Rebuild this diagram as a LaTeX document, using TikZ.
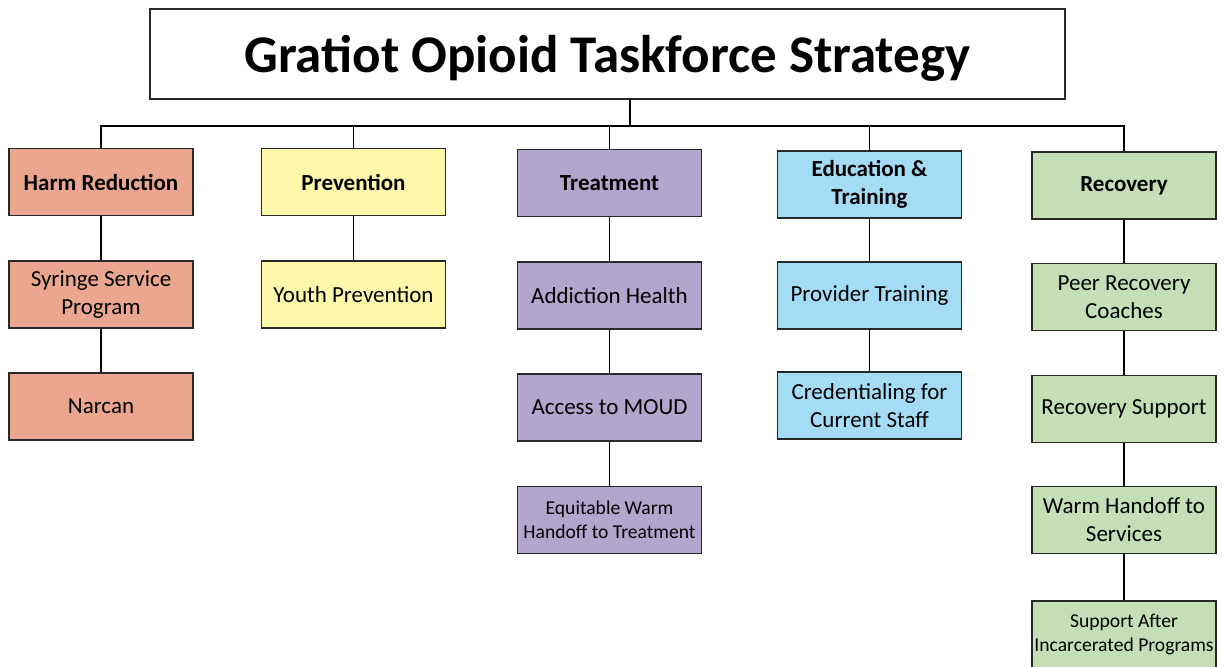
\documentclass[tikz,border=0pt]{standalone}
\usepackage{fontspec}
\setmainfont{Carlito}
\definecolor{harm}{RGB}{234,166,143}
\definecolor{prev}{RGB}{255,248,170}
\definecolor{treat}{RGB}{178,165,206}
\definecolor{edu}{RGB}{164,220,246}
\definecolor{rec}{RGB}{196,223,182}
\definecolor{edge}{RGB}{40,40,40}
\tikzset{
  box/.style={draw=edge, line width=1.3pt, rectangle, minimum width=184pt, minimum height=67pt, align=center, inner sep=2pt, font=\fontsize{23}{28}\selectfont},
  head/.style={box, font=\fontsize{23}{28}\selectfont\bfseries},
  small/.style={box, font=\fontsize{19.6}{24}\selectfont},
  link/.style={draw=black, line width=1.7pt},
}
\begin{document}
\begin{tikzpicture}[x=1pt,y=-1pt]
\useasboundingbox (0,0) rectangle (1225,666);
\begin{scope}
\clip (0,0) rectangle (1225,666);
\node[draw=edge, line width=1.4pt, minimum width=915pt, minimum height=90pt] (title) at (607.5,54) {};
\node[anchor=base, inner sep=0pt, font=\fontsize{53}{60}\selectfont\bfseries] (titletext) at (607.5,73) {Gratiot Opioid Taskforce Strategy};
\coordinate (bus) at (630,126);

\node[head, fill=harm] (h1) at (101,182) {Harm Reduction};
\node[box, fill=harm] (h2) at (101,294.5) {Syringe Service\\Program};
\node[box, fill=harm] (h3) at (101,406.5) {Narcan};

\node[head, fill=prev] (p1) at (353.5,182) {Prevention};
\node[box, fill=prev] (p2) at (353.5,294.5) {Youth Prevention};

\node[head, fill=treat] (t1) at (609.5,183) {Treatment};
\node[box, fill=treat] (t2) at (609.5,295.5) {Addiction Health};
\node[box, fill=treat] (t3) at (609.5,407.5) {Access to MOUD};
\node[small, fill=treat] (t4) at (609.5,520) {Equitable Warm\\Handoff to Treatment};

\node[head, fill=edu] (e1) at (869.5,184.5) {Education \&\\Training};
\node[box, fill=edu] (e2) at (869.5,295.5) {Provider Training};
\node[box, fill=edu] (e3) at (869.5,405.5) {Credentialing for\\Current Staff};

\node[head, fill=rec] (r1) at (1124,185.5) {Recovery};
\node[box, fill=rec] (r2) at (1124,297) {Peer Recovery\\Coaches};
\node[box, fill=rec] (r3) at (1124,409) {Recovery Support};
\node[box, fill=rec] (r4) at (1124,520) {Warm Handoff to\\Services};
\node[small, fill=rec] (r5) at (1124,634.5) {Support After\\Incarcerated Programs};

\draw[link] (title.south -| bus) -- (bus);
\draw[link] (h1.north) -- (h1.north |- bus) -- (r1.north |- bus) -- (r1.north);
\draw[link] (p1.north) -- (p1.north |- bus);
\draw[link] (t1.north) -- (t1.north |- bus);
\draw[link] (e1.north) -- (e1.north |- bus);

\draw[link] (h1) -- (h2);
\draw[link] (h2) -- (h3);
\draw[link] (p1) -- (p2);
\draw[link] (t1) -- (t2);
\draw[link] (t2) -- (t3);
\draw[link] (t3) -- (t4);
\draw[link] (e1) -- (e2);
\draw[link] (e2) -- (e3);
\draw[link] (r1) -- (r2);
\draw[link] (r2) -- (r3);
\draw[link] (r3) -- (r4);
\draw[link] (r4) -- (r5);
\end{scope}
\end{tikzpicture}
\end{document}
